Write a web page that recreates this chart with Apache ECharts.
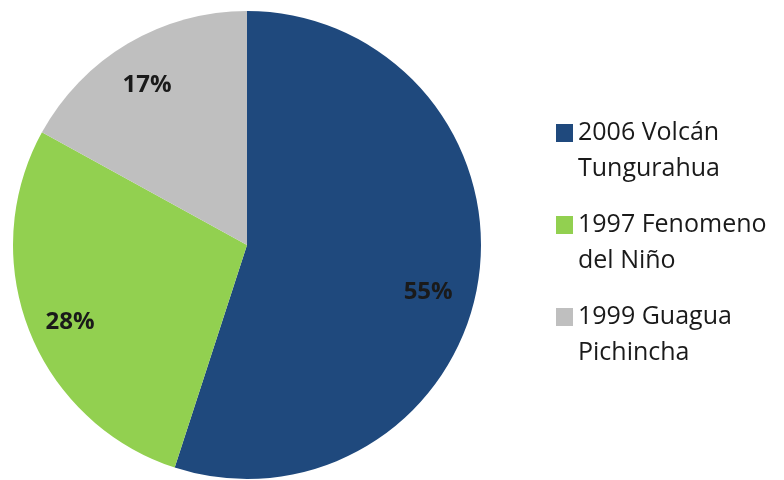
<!DOCTYPE html>
<html>
<head>
<meta charset="utf-8">
<script src="https://cdn.jsdelivr.net/npm/echarts@6/dist/echarts.min.js"></script>
<style>
  html, body { margin: 0; padding: 0; background: #ffffff; }
  #chart { width: 784px; height: 480px; }
</style>
</head>
<body>
<div id="chart"></div>
<script>
// Share of events by category
const categories = ['2006 Volcán Tungurahua', '1997 Fenomeno del Niño', '1999 Guagua Pichincha'];
const legendLines = [['2006 Volcán', 'Tungurahua'], ['1997 Fenomeno', 'del Niño'], ['1999 Guagua', 'Pichincha']];
const shares = [55, 28, 17];
const colors = ['#1F497D', '#92D050', '#BFBFBF'];

// small nudges for the percentage labels
const labelOffsets = [[-9, 17], [2, 6], [-2, 6]];

const FONT = '"Open Sans", Lato, sans-serif';
const R = 234;

const chart = echarts.init(document.getElementById('chart'), null, { renderer: 'canvas' });

const pieData = categories.map((name, i) => ({ name, value: shares[i], itemStyle: { color: colors[i] } }));

chart.setOption({
  animation: false,
  backgroundColor: '#ffffff',
  legend: {
    orient: 'vertical',
    left: 551,
    top: 74,
    itemWidth: 17,
    itemHeight: 18,
    itemGap: -16,
    icon: 'rect',
    data: categories,
    // a leading blank line keeps the marker level with the first text line
    formatter: name => '\n' + legendLines[categories.indexOf(name)].join('\n'),
    textStyle: {
      fontFamily: FONT,
      fontSize: 25,
      color: '#1a1a1a',
      lineHeight: 36
    }
  },
  series: [
    {
      type: 'pie',
      center: [247, 245],
      radius: [0, R],
      startAngle: 90,
      clockwise: true,
      silent: true,
      label: { show: false },
      labelLine: { show: false },
      data: pieData
    },
    {
      // transparent ring carrying the percentage labels at ~0.81 of the radius
      type: 'pie',
      center: [247, 245],
      radius: [R * 0.62, R],
      startAngle: 90,
      clockwise: true,
      silent: true,
      itemStyle: { color: 'rgba(0,0,0,0)' },
      label: {
        show: true,
        position: 'inside',
        formatter: p => shares[p.dataIndex] + '%',
        fontFamily: FONT,
        fontWeight: 'bold',
        fontSize: 24,
        color: '#1a1a1a'
      },
      labelLine: { show: false },
      data: categories.map((name, i) => ({
        name: name + ' ',
        value: shares[i],
        label: { offset: labelOffsets[i] }
      }))
    }
  ]
});
</script>
</body>
</html>
